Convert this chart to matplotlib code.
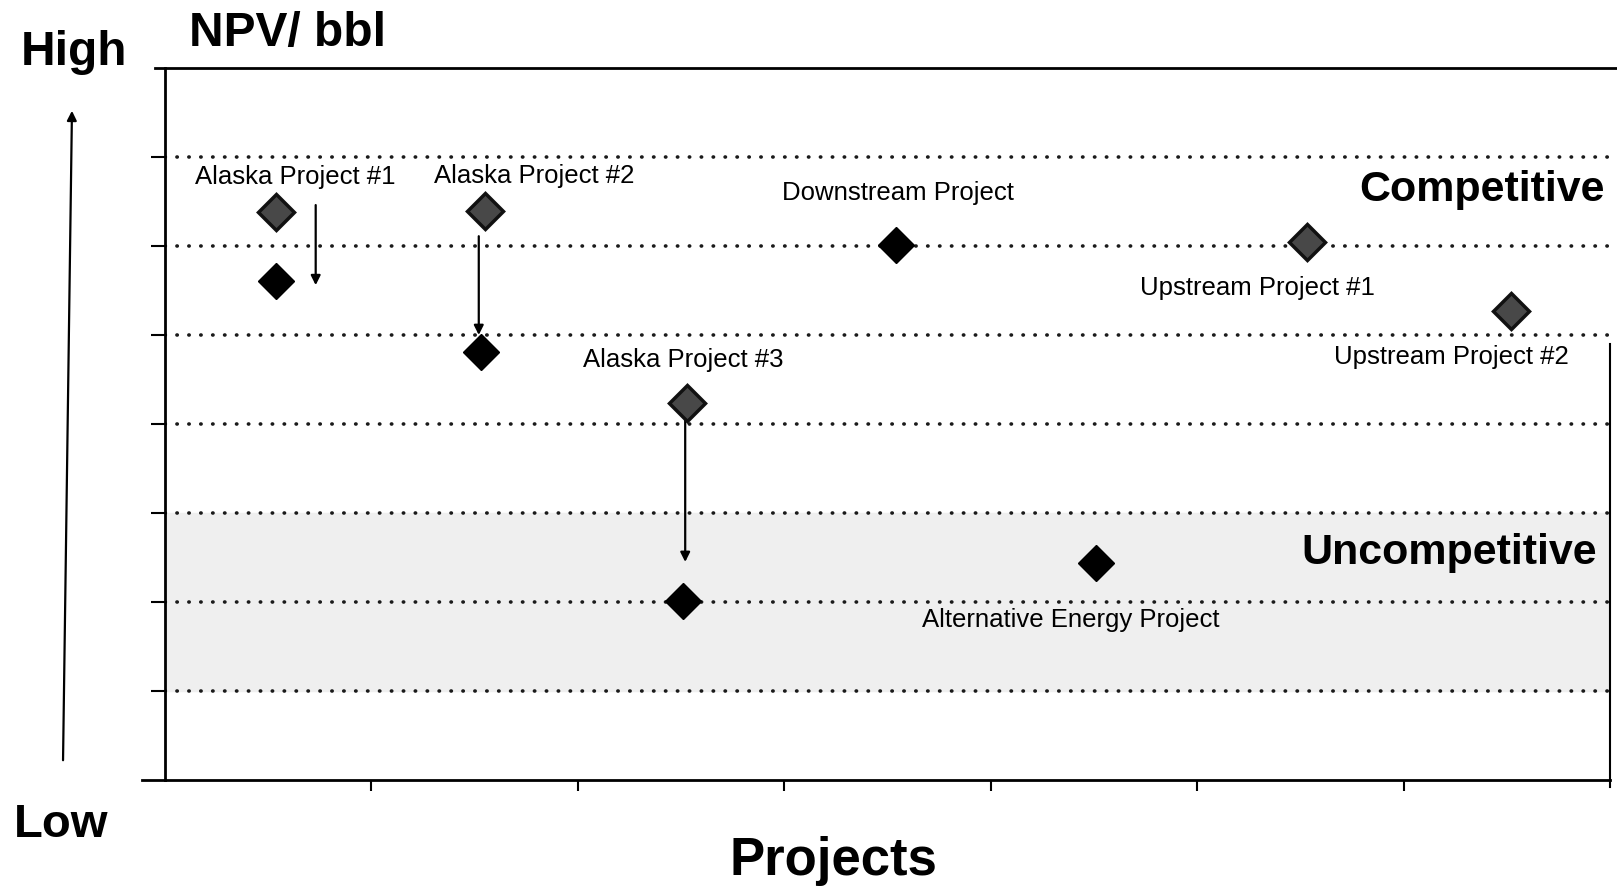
import matplotlib.pyplot as plt

# project positions along the x axis and NPV/bbl before (grey) and after (black)
projects = ["Alaska Project #1", "Alaska Project #2", "Alaska Project #3",
            "Downstream Project", "Alternative Energy Project",
            "Upstream Project #1", "Upstream Project #2"]

grey_x = [0.54, 1.55, 2.53, 5.53, 6.52]
grey_y = [6.38, 6.39, 4.24, 6.05, 5.27]

black_x = [0.54, 1.53, 2.51, 3.54, 4.51]
black_y = [5.61, 4.81, 2.01, 6.01, 2.44]

# downward moves for the Alaska projects: x, start, end
move_x = [0.73, 1.52, 2.52]
move_from = [6.46, 6.11, 4.08]
move_to = [5.56, 5.00, 2.45]

# label anchors
label_x = [0.63, 1.79, 2.51, 3.55, 4.39, 5.29, 6.23]
label_y = [6.78, 6.79, 4.72, 6.60, 1.80, 5.53, 4.755]

grid_levels = [1, 2, 3, 4, 5, 6, 7]

plt.rcParams['font.family'] = ['Liberation Sans', 'DejaVu Sans']

fig = plt.figure(figsize=(16.17, 8.89), dpi=100)
ax = fig.add_axes([165 / 1617, 109 / 889, 1445 / 1617, 712 / 889])
ax.set_xlim(0, 7)
ax.set_ylim(0, 8)

# uncompetitive band
ax.axhspan(1, 3, color='#efefef', zorder=0)

for lvl in grid_levels:
    ax.axhline(lvl, color='#1a1a1a', lw=2.6, ls=(0, (0.1, 3.2)),
               dash_capstyle='round', zorder=1)

# top border and partial right edge
ax.plot([-0.05, 7.05], [8, 8], color='k', lw=2, clip_on=False)
ax.plot([7, 7], [-0.08, 4.9], color='k', lw=1.5, clip_on=False)
ax.plot([-0.11, 0], [0, 0], color='k', lw=2, clip_on=False)

for s in ['top', 'right']:
    ax.spines[s].set_visible(False)
for s in ['left', 'bottom']:
    ax.spines[s].set_linewidth(2)

ax.set_xticks([1, 2, 3, 4, 5, 6])
ax.set_yticks(grid_levels)
ax.tick_params(axis='x', length=8, width=1.5, direction='out', labelbottom=False)
ax.tick_params(axis='y', length=10, width=1.5, direction='out', labelleft=False)

ax.plot(grey_x, grey_y, 'D', ms=18, mfc='#484848', mec='#111111', mew=2.5,
        zorder=4, linestyle='none')
ax.plot(black_x, black_y, 'D', ms=18.5, mfc='black', mec='black', mew=1,
        zorder=4, linestyle='none')

for x, y0, y1 in zip(move_x, move_from, move_to):
    ax.annotate('', xy=(x, y1), xytext=(x, y0),
                arrowprops=dict(arrowstyle='-|>', color='black', lw=1.6,
                                mutation_scale=14, shrinkA=0, shrinkB=0),
                zorder=3)

for name, x, y in zip(projects, label_x, label_y):
    ax.text(x, y, name, fontsize=18.5, ha='center', va='center', zorder=5)

ax.text(6.973, 6.63, 'Competitive', fontsize=31, fontweight='bold',
        ha='right', va='center')
ax.text(6.938, 2.55, 'Uncompetitive', fontsize=31, fontweight='bold',
        ha='right', va='center')

# outer labels in figure pixels
W, H = 1617, 889
fig.text(21 / W, 1 - 65 / H, 'High', fontsize=34.5, fontweight='bold',
         ha='left', va='baseline')
fig.text(189 / W, 1 - 46 / H, 'NPV/ bbl', fontsize=34.5, fontweight='bold',
         ha='left', va='baseline')
fig.text(14 / W, 1 - 837 / H, 'Low', fontsize=34, fontweight='bold',
         ha='left', va='baseline')
fig.text(833 / W, 1 - 875 / H, 'Projects', fontsize=38, fontweight='bold',
         ha='center', va='baseline')

fig.patches.append(plt.matplotlib.patches.FancyArrowPatch(
    (63 / W, 1 - 763 / H), (72 / W, 1 - 108 / H),
    transform=fig.transFigure, arrowstyle='-|>', mutation_scale=14,
    color='black', lw=1.6))

fig.savefig('out.png', dpi=100)
